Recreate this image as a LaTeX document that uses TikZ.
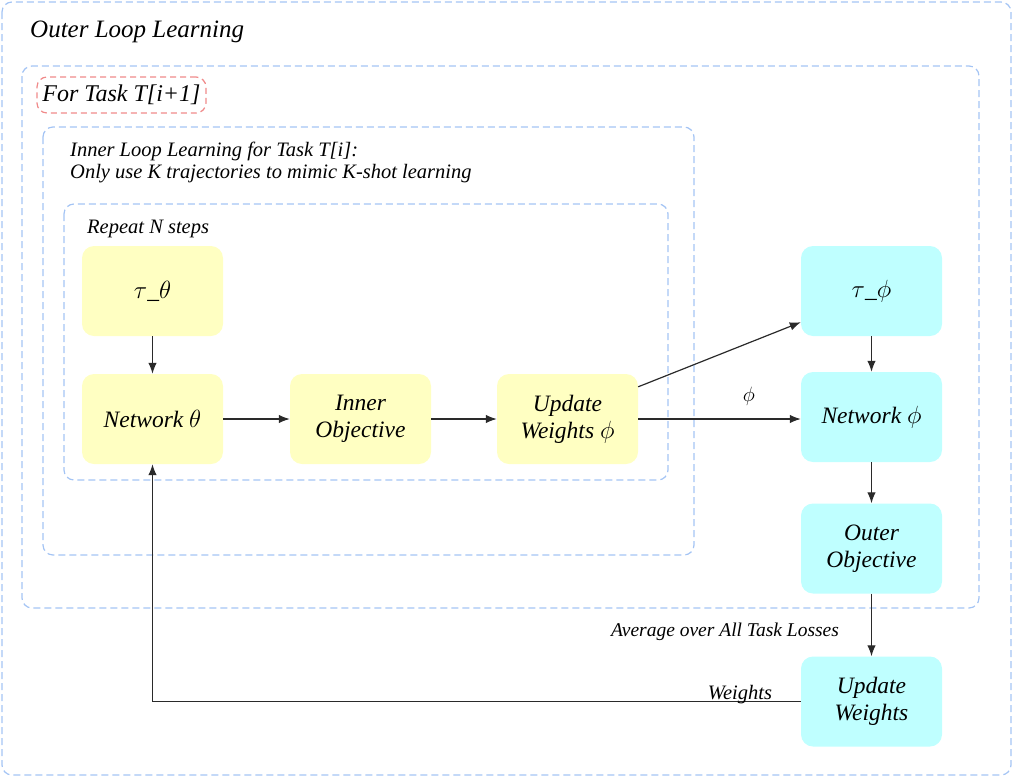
\documentclass[tikz,border=0pt]{standalone}
\usepackage{fontspec}
\setmainfont{Liberation Serif}
\usetikzlibrary{arrows.meta}
\definecolor{yel}{HTML}{FFFFC2}
\definecolor{cya}{HTML}{BFFFFF}
\definecolor{framec}{HTML}{A4C4F4}
\definecolor{redc}{HTML}{F08A8A}
\definecolor{linec}{HTML}{2A2A2A}
\begin{document}
\begin{tikzpicture}[x=1pt,y=-1pt,
  frame/.style={draw=framec, dash pattern=on 7pt off 4pt, rounded corners=10pt, line width=1.2pt},
  boxbase/.style={rounded corners=12pt, minimum width=141pt, minimum height=90pt, align=center, inner sep=0pt, font=\itshape\fontsize{23.5}{27}\selectfont},
  ybox/.style={boxbase, fill=yel},
  cbox/.style={boxbase, fill=cya},
  lbl/.style={font=\itshape\fontsize{20.5}{22}\selectfont, inner sep=0pt, align=left},
  arr/.style={-{Latex[length=11pt,width=8.5pt]}, line width=1.2pt, draw=linec}
]
\useasboundingbox (0,0) rectangle (1013,777);
% frames
\draw[frame] (2,2) rectangle (1011,775);
\draw[frame] (22,66) rectangle (979,608);
\draw[frame] (43,127) rectangle (694,555);
\draw[frame] (64,204) rectangle (668,480);
% frame labels
\node[lbl, anchor=west, font=\itshape\fontsize{25}{28}\selectfont] (title) at (30,32) {Outer Loop Learning};
\node[draw=redc, dash pattern=on 6pt off 4pt, line width=1.2pt, rounded corners=10pt, minimum width=169pt, minimum height=36pt, inner sep=0pt, font=\itshape\fontsize{24}{27}\selectfont] (fortask) at (121.5,95) {For Task T[i+1]};
\node[lbl, anchor=north west] (inner) at (70,142) {Inner Loop Learning for Task T[i]:\\Only use K trajectories to mimic K-shot learning};
\node[lbl, anchor=west] (repeat) at (87,229) {Repeat N steps};
% yellow nodes
\node[ybox] (tt) at (152.5,291) {$\tau$\_$\theta$};
\node[ybox] (nt) at (152.5,419) {Network $\theta$};
\node[ybox] (io) at (360.5,419) {Inner\\Objective};
\node[ybox] (uw) at (567.5,419) {Update\\Weights $\phi$};
% cyan nodes
\node[cbox] (tp) at (871.5,291) {$\tau$\_$\phi$};
\node[cbox] (np) at (871.5,417) {Network $\phi$};
\node[cbox] (oo) at (871.5,548.5) {Outer\\Objective};
\node[cbox] (uw2) at (871.5,701.5) {Update\\Weights};
% edges
\draw[arr] (tt) -- (nt);
\draw[arr] (nt) -- (io);
\draw[arr] (io) -- (uw);
\draw[arr] ([yshift=-13pt]uw.north east) -- ([yshift=14pt]tp.south west);
\draw[arr] (uw.east) -- node[lbl, above=13pt, pos=0.68] (philbl) {$\phi$} (uw.east -| np.west);
\draw[arr] (tp) -- (np);
\draw[arr] (np) -- (oo);
\draw[arr] (oo) -- (uw2);
\node[lbl, font=\itshape\fontsize{19.5}{22}\selectfont] (avg) at (725,632) {Average over All Task Losses};
\draw[arr] (uw2.west) -| (nt.south);
\node[lbl] (wlbl) at (740,695) {Weights};
\end{tikzpicture}
\end{document}
